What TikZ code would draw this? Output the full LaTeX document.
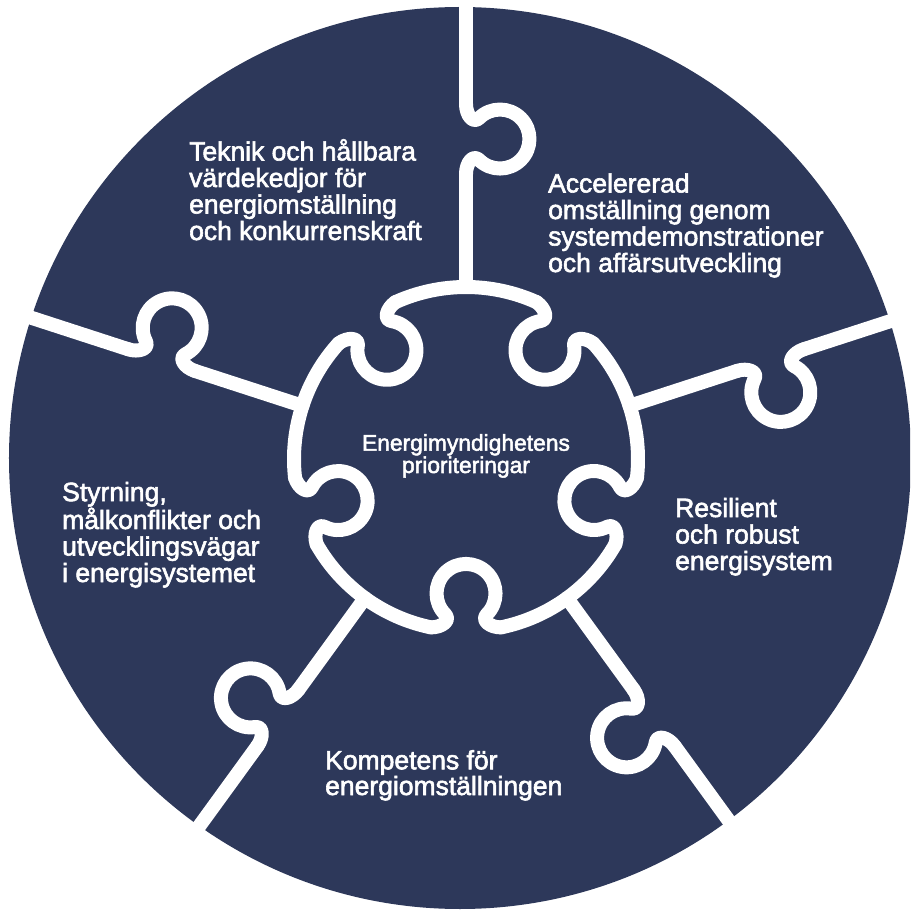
\documentclass[tikz,border=0pt]{standalone}
\usepackage{fontspec}
\setmainfont{Liberation Sans}[FakeBold=2.2]
\definecolor{navy}{RGB}{45,56,90}
\tikzset{
  cut/.style={draw=white, line width=14pt, line cap=round, line join=round},
  piecetext/.style={text=white, align=left, inner sep=0pt, anchor=base west,
    font=\fontsize{26.5}{26.5}\selectfont},
  knob/.pic={
    \draw[cut] (-35,0) .. controls (-24,0) and (-14.9,-7.1) .. (-20.9,-13.1)
      arc[start angle=135, end angle=405, radius=29.5]
      .. controls (14.9,-7.1) and (24,0) .. (35,0);
  }
}
\begin{document}
\begin{tikzpicture}[x=1pt, y=1pt]
\useasboundingbox (-466,-453) rectangle (444,459);
\clip (-466,-453) rectangle (444,459);
% disc
\fill[navy] (-6,1) circle[radius=451];
% cuts between the outer pieces and round the centre piece
\foreach \k in {0,...,4} {
  \pgfmathsetmacro\a{90+72*\k}
  \pgfmathsetmacro\b{54+72*\k}
  \draw[cut] (\a:172) -- (\a:285);
  \draw[cut] (\a:355) -- (\a:480);
  \pic[rotate=\a] at (\a:320) {knob};
  \pic[rotate=\b-90] at (\b:168.4) {knob};
  \draw[cut] (\b+11.8:172) arc[start angle=\b+11.8, end angle=\b+60.2, radius=172];
}
% texts (anchored at the last baseline)
\node[piecetext] (teknik) at (-277,219) {Teknik och hållbara\\värdekedjor för\\energiomställning\\och konkurrenskraft};
\node[piecetext] (acc) at (82,187) {Accelererad\\omställning genom\\systemdemonstrationer\\och affärsutveckling};
\node[piecetext] (styr) at (-404,-123) {Styrning,\\målkonflikter och\\utvecklingsvägar\\i energisystemet};
\node[piecetext] (resil) at (209,-111) {Resilient\\och robust\\energisystem};
\node[piecetext, font=\fontsize{26.5}{24}\selectfont] (komp) at (-141,-336) {Kompetens för\\energiomställningen};
\node[text=white, align=center, inner sep=0pt, anchor=base,
  font=\fontsize{22.8}{20}\selectfont] (prio) at (0,-14) {Energimyndighetens\\prioriteringar};
\end{tikzpicture}
\end{document}
